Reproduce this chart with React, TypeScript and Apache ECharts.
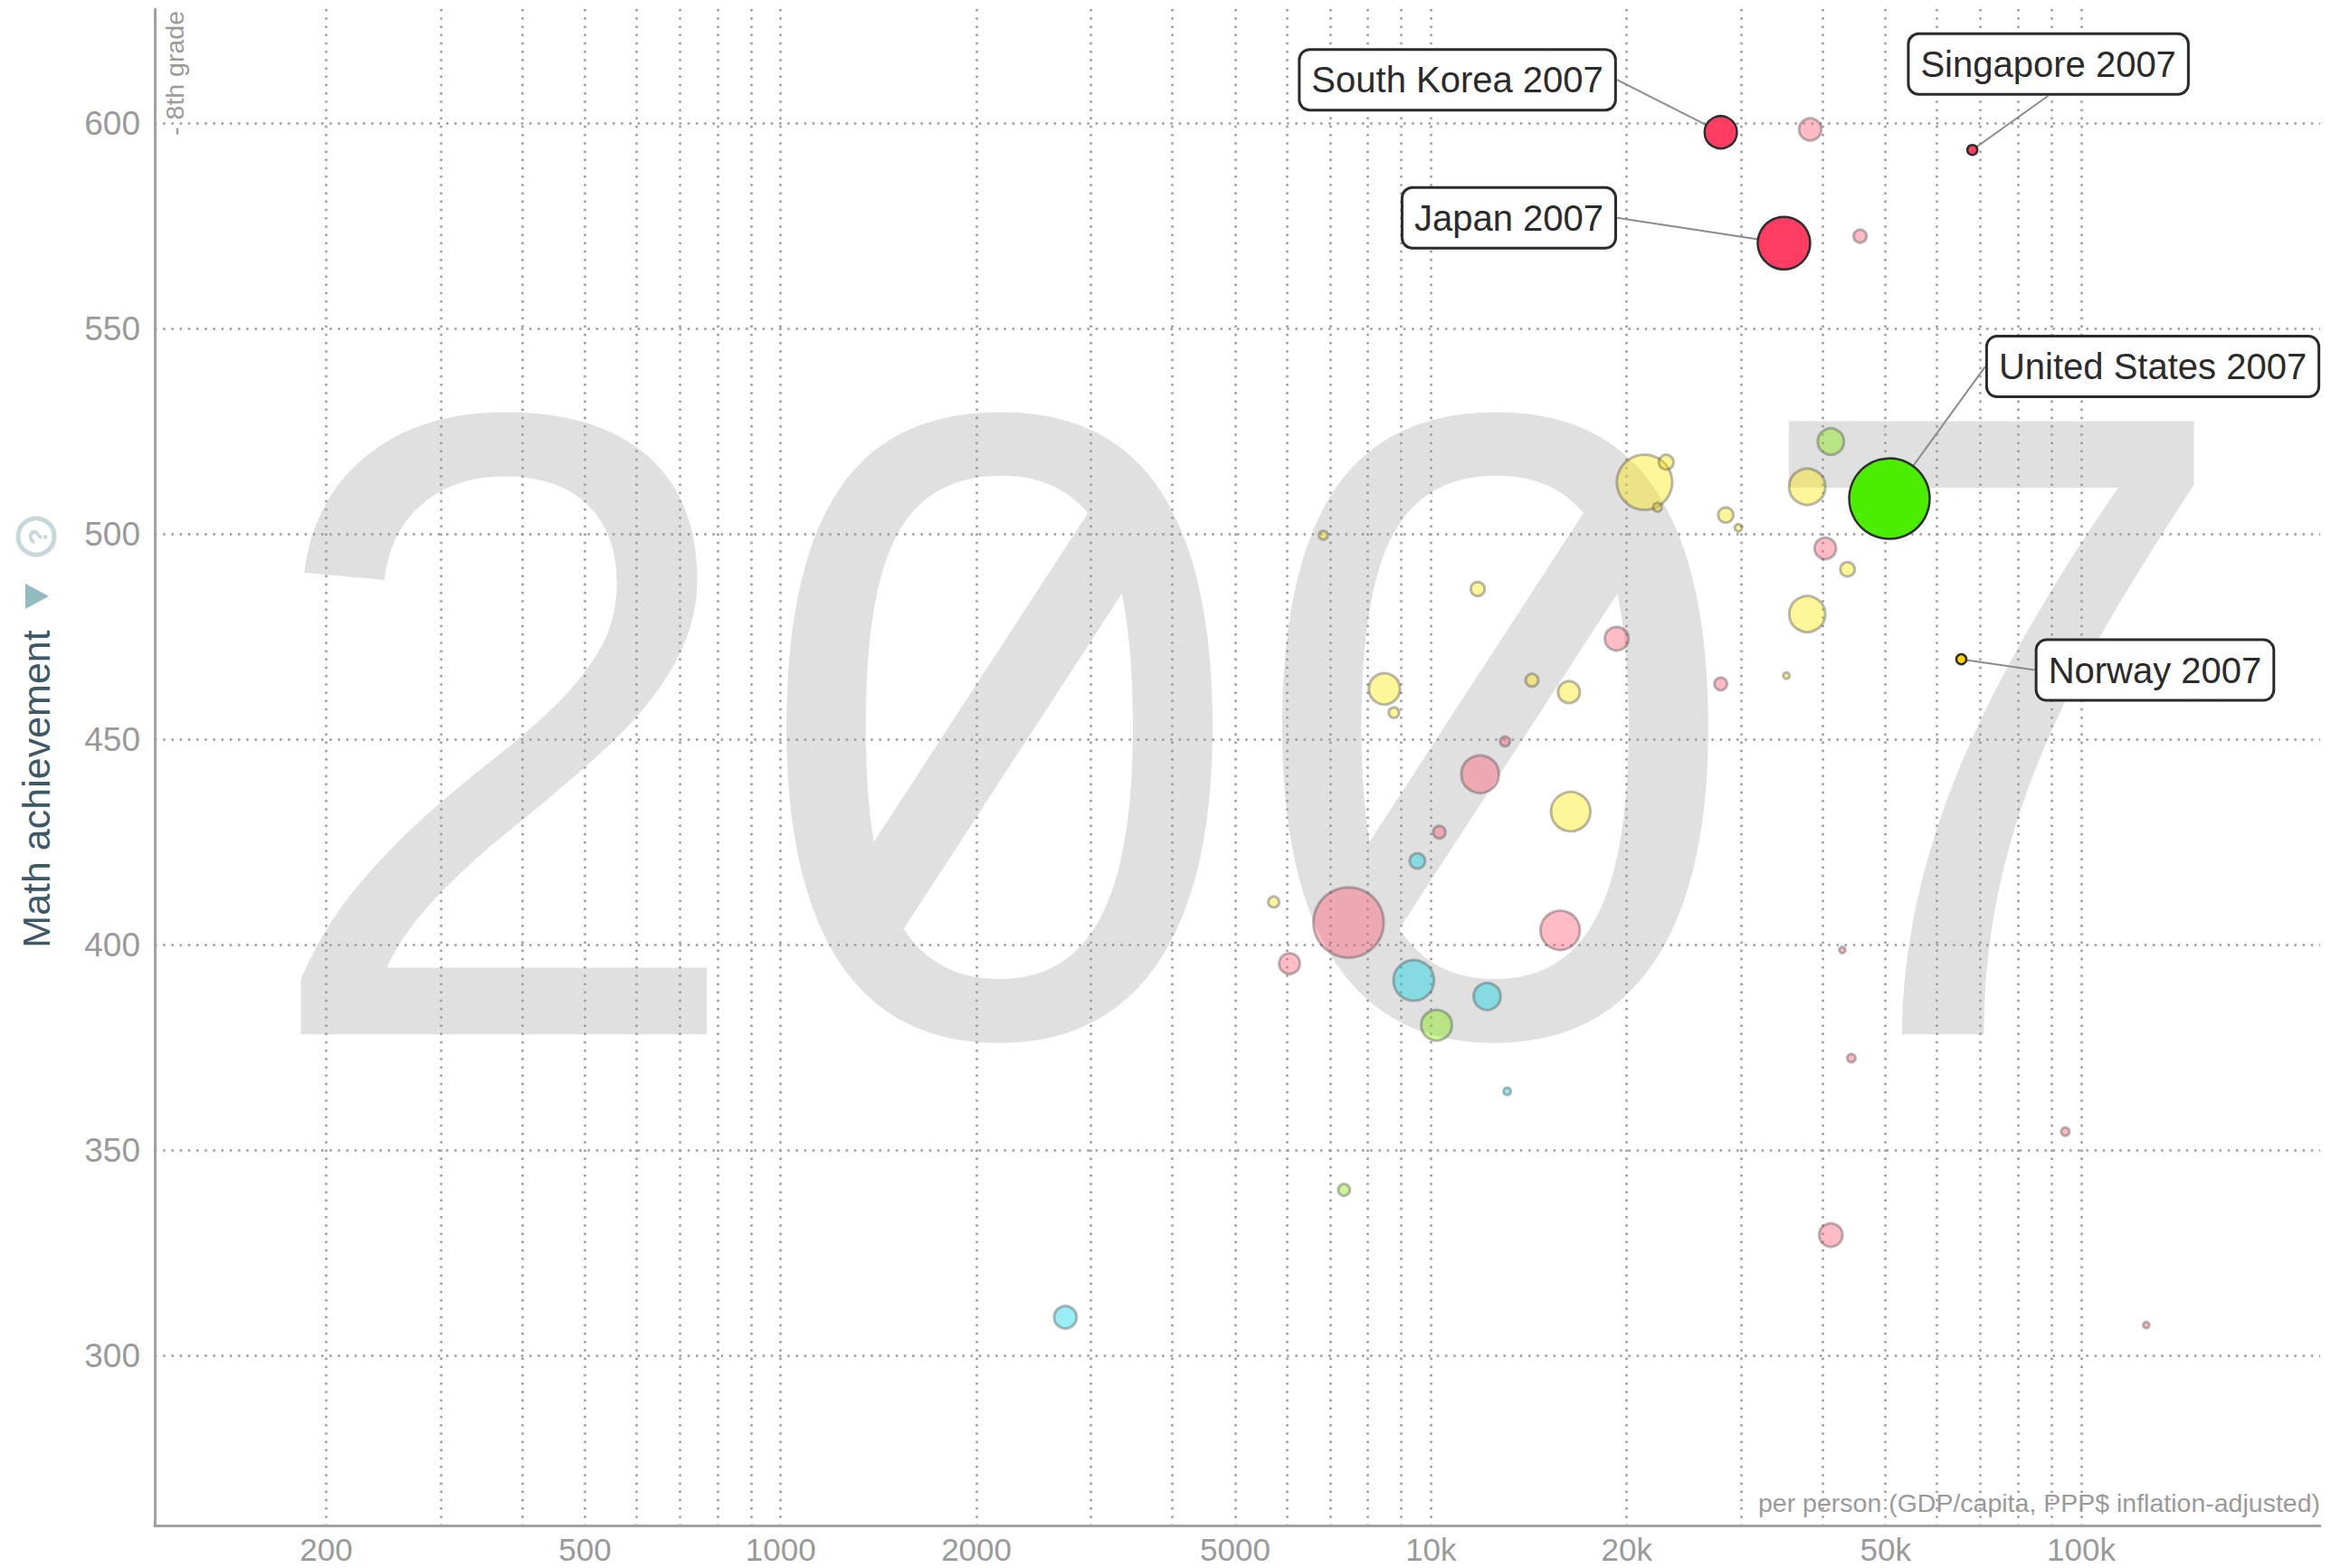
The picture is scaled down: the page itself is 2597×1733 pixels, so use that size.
import React, { useEffect, useRef } from "react";
import * as echarts from "echarts";

// ---------------- data ----------------
const countries = [
  "South Korea", "Chinese Taipei", "Singapore", "Japan", "Hong Kong", "Canada",
  "Russia", "Hungary", "Lithuania", "United Kingdom", "United States", "Czech Republic",
  "Slovenia", "Australia", "Sweden", "Italy", "Norway", "Armenia", "Serbia", "Malaysia",
  "Israel", "Cyprus", "Bulgaria", "Romania", "Ukraine", "Bosnia and Herzegovina",
  "Lebanon", "Thailand", "Turkey", "Jordan", "Tunisia", "Georgia", "Indonesia", "Iran",
  "Syria", "Egypt", "Algeria", "Colombia", "Botswana", "Bahrain", "Oman", "Kuwait",
  "El Salvador", "Saudi Arabia", "Qatar", "Ghana",
];
// GDP per capita (PPP$, inflation-adjusted)
const gdpPerCapita = [
  27900, 38300, 68000, 34900, 45700, 41200,
  21300, 23000, 22300, 37900, 50700, 28400,
  29700, 40400, 43700, 37900, 65400, 6830, 11800, 19300,
  27900, 35200, 14300, 16300, 8480, 8770,
  13000, 11900, 16400, 10300, 9530, 5730, 7470, 15800,
  6060, 9410, 12200, 10200, 13100, 42900, 44300, 94500,
  7350, 41200, 125900, 2740,
];
// TIMSS 8th grade math score
const mathScore = [
  597.8, 598.5, 593.5, 570.8, 572.5, 522.5,
  512.6, 517.5, 506.5, 511.5, 508.6, 504.6,
  501.5, 496.5, 491.4, 480.5, 469.5, 499.7, 486.6, 474.5,
  463.5, 465.5, 464.4, 461.5, 462.3, 456.5,
  449.5, 441.5, 432.4, 427.4, 420.4, 410.4, 405.4, 403.5,
  395.4, 391.3, 387.4, 380.4, 364.3, 398.7, 372.4, 354.5,
  340.3, 329.3, 307.4, 309.3,
];
// population, millions (bubble size)
const population = [
  48.5, 23, 4.6, 127.5, 8, 32,
  142, 10, 3.4, 61, 301, 10.5,
  2.5, 21.5, 9.5, 60, 4.7, 3.5, 9, 26,
  7.4, 1.8, 7.5, 22, 45, 5,
  4.5, 66, 72, 7.2, 11, 5.5, 230, 72,
  20, 77, 34, 44, 2.6, 1.8, 3.2, 3.2,
  6.4, 25.5, 1.8, 23.5,
];
const regions = [
  "asia", "asia", "asia", "asia", "asia", "americas",
  "europe", "europe", "europe", "europe", "americas", "europe",
  "europe", "asia", "europe", "europe", "europe", "europe", "europe", "asia",
  "asia", "europe", "europe", "europe", "europe", "europe",
  "asia", "asia", "europe", "asia", "africa", "europe", "asia", "asia",
  "asia", "africa", "africa", "americas", "africa", "asia", "asia", "asia",
  "americas", "asia", "asia", "africa",
];
const highlighted = ["South Korea", "Singapore", "Japan", "United States", "Norway"];
const yearText = "2007";

const xLabelValues = [200, 500, 1000, 2000, 5000, 10000, 20000, 50000, 100000];
const xGridValues = [
  200, 300, 400, 500, 600, 700, 800, 900, 1000,
  2000, 3000, 4000, 5000, 6000, 7000, 8000, 9000, 10000,
  20000, 30000, 40000, 50000, 60000, 70000, 80000, 90000, 100000,
];
const yTickValues = [300, 350, 400, 450, 500, 550, 600];
const xMin = 109;
const xMax = 233000;
const yMin = 258.6;
const yMax = 627.8;

// ---------------- styles ----------------
const FONT = "Liberation Sans";
const fadedColor: Record<string, string> = {
  asia: "rgba(255,88,114,0.4)",
  europe: "rgba(255,231,0,0.4)",
  americas: "rgba(127,235,0,0.4)",
  africa: "rgba(0,213,233,0.4)",
};
const strongColor: Record<string, string> = {
  asia: "#ff3d62",
  europe: "#ffd700",
  americas: "#4cee00",
  africa: "#00d5e9",
};
// label box offsets relative to the bubble centre
const labelOffsets: Record<string, [number, number]> = {
  "South Korea": [-291, -58],
  Singapore: [84, -95],
  Japan: [-304, -28],
  "United States": [291, -146],
  Norway: [214, 12],
};

const fmtGdp = (v: number) => {
  const r = Math.round(v);
  return r >= 10000 ? `${Math.round(r / 1000)}k` : `${r}`;
};

export default function App() {
  const ref = useRef<HTMLDivElement>(null);

  useEffect(() => {
    const chart = echarts.init(ref.current!, undefined, { renderer: "svg" });

    const idx = countries.map((_, i) => i);
    idx.sort((a, b) => {
      const ha = highlighted.includes(countries[a]) ? 1 : 0;
      const hb = highlighted.includes(countries[b]) ? 1 : 0;
      if (ha !== hb) return ha - hb;
      return population[b] - population[a];
    });

    const data = idx.map((i) => {
      const hi = highlighted.includes(countries[i]);
      const reg = regions[i];
      return {
        name: countries[i],
        value: [Math.log10(gdpPerCapita[i]), mathScore[i], population[i]],
        symbolSize: 5.13 * Math.sqrt(population[i]),
        itemStyle: hi
          ? { color: strongColor[reg], borderColor: "#2e2e2e", borderWidth: 2.5, opacity: 1 }
          : { color: fadedColor[reg], borderColor: "rgba(80,80,80,0.4)", borderWidth: 3, opacity: 1 },
        label: { show: hi },
      };
    });

    const gray = "#e0e0e0";
    const bigFont = 985;
    const zeroCenters = [1378.5 - 0.5 * 0.556 * bigFont, 1378.5 + 0.5 * 0.556 * bigFont];
    const slashT = 268;
    const dirX = 0.545;
    const dirY = -0.838;
    const slashCy = 1143 - 0.358 * bigFont;

    const option: any = {
      animation: false,
      backgroundColor: "#ffffff",
      grid: { left: 171, top: 10, right: 33, bottom: 47, containLabel: false, outerBoundsMode: "none" },
      xAxis: {
        type: "value",
        min: Math.log10(xMin),
        max: Math.log10(xMax),
        axisLine: { show: true, onZero: false, lineStyle: { color: "#a2a2a2", width: 3 } },
        axisTick: { show: false, customValues: xGridValues.map((v) => Math.log10(v)) },
        axisLabel: {
          customValues: xLabelValues.map((v) => Math.log10(v)),
          formatter: (v: number) => fmtGdp(Math.pow(10, v)),
          color: "#9a9a9a",
          fontSize: 35,
          lineHeight: 34,
          fontFamily: FONT,
          margin: 9,
        },
        splitLine: { show: true, lineStyle: { color: "#9a9a9a", width: 2.5, type: [2.5, 6.7] } },
      },
      yAxis: {
        type: "value",
        min: yMin,
        max: yMax,
        axisLine: { show: true, onZero: false, lineStyle: { color: "#a2a2a2", width: 3 } },
        axisTick: { show: false, customValues: yTickValues },
        axisLabel: {
          customValues: yTickValues,
          color: "#9a9a9a",
          fontSize: 37,
          fontFamily: FONT,
          margin: 16,
        },
        splitLine: { show: true, lineStyle: { color: "#9a9a9a", width: 2.5, type: [2.5, 6.7] } },
      },
      graphic: {
        elements: [
          {
            type: "text",
            z: -100,
            silent: true,
            x: 1378.5,
            y: 1143 - 0.3465 * bigFont,
            style: {
              text: yearText,
              fill: gray,
              fontSize: bigFont,
              fontFamily: FONT,
              textAlign: "center",
              textVerticalAlign: "middle",
            },
          },
          ...zeroCenters.map((cx) => ({
            type: "line",
            z: -99,
            silent: true,
            shape: {
              x1: cx - dirX * slashT,
              y1: slashCy - dirY * slashT,
              x2: cx + dirX * slashT,
              y2: slashCy + dirY * slashT,
            },
            style: { stroke: gray, lineWidth: 80 },
          })),
          {
            type: "text",
            x: 40,
            y: 872,
            rotation: Math.PI / 2,
            style: {
              text: "Math achievement",
              fill: "#3e5865",
              fontSize: 43,
              fontFamily: FONT,
              textAlign: "center",
              textVerticalAlign: "middle",
            },
          },
          {
            type: "polygon",
            shape: { points: [[28, 645], [28, 673], [54, 659]] },
            style: { fill: "#93bcc1" },
          },
          {
            type: "circle",
            shape: { cx: 40, cy: 593, r: 20 },
            style: { fill: "none", stroke: "#c8d7db", lineWidth: 5 },
          },
          {
            type: "text",
            x: 41,
            y: 593,
            rotation: Math.PI / 2,
            style: {
              text: "?",
              fill: "#c8d7db",
              fontSize: 30,
              fontWeight: "bold",
              fontFamily: FONT,
              textAlign: "center",
              textVerticalAlign: "middle",
            },
          },
          {
            type: "text",
            x: 193,
            y: 12,
            rotation: Math.PI / 2,
            style: {
              text: "- 8th grade",
              fill: "#9a9a9a",
              fontSize: 28.5,
              fontFamily: FONT,
              textAlign: "right",
              textVerticalAlign: "middle",
            },
          },
          {
            type: "text",
            x: 2564,
            y: 1661,
            style: {
              text: "per person (GDP/capita, PPP$ inflation-adjusted)",
              fill: "#9a9a9a",
              fontSize: 28.5,
              fontFamily: FONT,
              textAlign: "right",
              textVerticalAlign: "middle",
            },
          },
        ],
      },
      series: [
        {
          type: "scatter",
          data,
          emphasis: { disabled: true },
          label: {
            show: false,
            position: "inside",
            formatter: (p: any) => `${p.name} ${yearText}`,
            color: "#2b2b2b",
            fontSize: 40,
            fontFamily: FONT,
            backgroundColor: "#ffffff",
            borderColor: "#2b2b2b",
            borderWidth: 3,
            borderRadius: 10,
            padding: [13, 12, 11, 12],
          },
          labelLine: { show: true, lineStyle: { color: "#8c8c8c", width: 2 } },
          labelLayout: (params: any) => {
            const name = String(params.text || "").replace(` ${yearText}`, "");
            const off = labelOffsets[name];
            if (!off) return {};
            const r = params.rect;
            return {
              x: r.x + r.width / 2 + off[0],
              y: r.y + r.height / 2 + off[1],
              align: "center",
              verticalAlign: "middle",
            };
          },
        },
      ],
    };

    chart.setOption(option);
    return () => chart.dispose();
  }, []);

  return (
    <div
      ref={ref}
      style={{ position: "fixed", left: 0, top: 0, width: 2597, height: 1733, background: "#fff" }}
    />
  );
}
